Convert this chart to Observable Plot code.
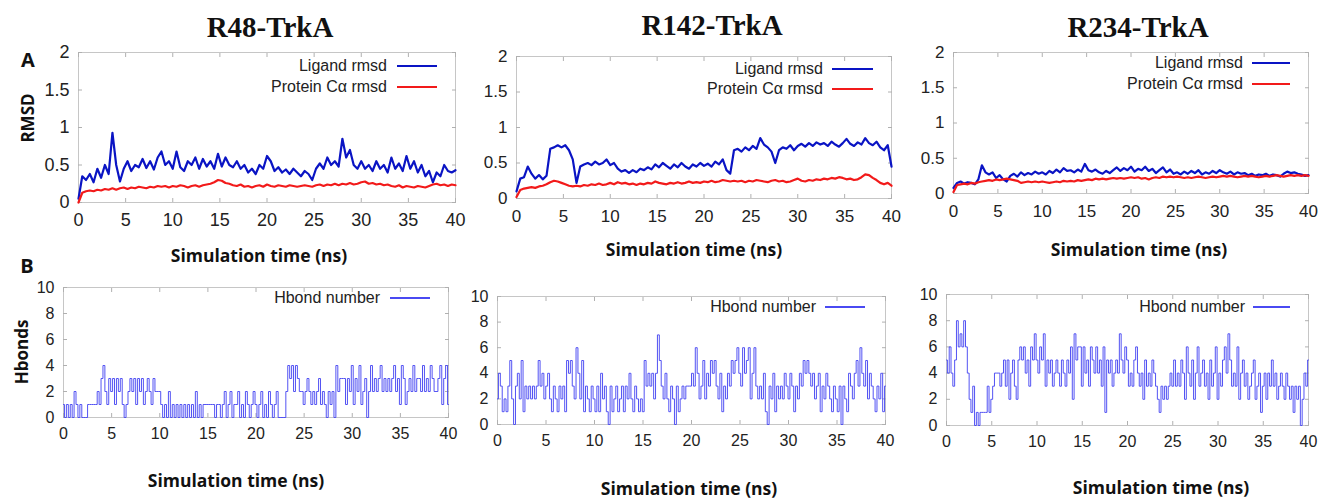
<!DOCTYPE html>
<html><head><meta charset="utf-8">
<script src="https://cdn.jsdelivr.net/npm/d3@7"></script>
<script src="https://cdn.jsdelivr.net/npm/@observablehq/plot@0.6"></script>
<style>
body{margin:0;background:#fff;}
#fig{position:relative;width:1319px;height:499px;overflow:hidden;font-family:"Liberation Sans",Arial,sans-serif;background:#fff;}
.abs{position:absolute;white-space:nowrap;line-height:1;}
.title{font-family:"Liberation Serif","Times New Roman",serif;font-weight:bold;font-size:29px;transform:translate(-50%,-50%);color:#111;}
.xlab{font-family:"Open Sans",sans-serif;font-weight:700;font-size:17.5px;transform:translate(-50%,-50%);color:#111;}
.ylab{font-family:"Open Sans",sans-serif;font-weight:700;font-size:17px;transform:translate(-50%,-50%) rotate(-90deg);color:#111;}
.letter{font-family:"Open Sans",sans-serif;font-weight:700;font-size:20px;transform:translate(-50%,-50%);color:#111;}
.leg{font-family:"Liberation Sans",Arial,sans-serif;font-size:16px;color:#222;transform:translateY(-50%);}
.swatch{position:absolute;height:2px;}
</style></head>
<body><div id="fig"></div>
<script>
// ---------- data ----------
const titles = ["R48-TrkA", "R142-TrkA", "R234-TrkA"];
const xLabel = "Simulation time (ns)";
const xTicks = [0, 5, 10, 15, 20, 25, 30, 35, 40];
const rmsdTicks = [0, 0.5, 1, 1.5, 2];
const hbondTicks = [0, 2, 4, 6, 8, 10];
const rmsdSeriesNames = ["Ligand rmsd", "Protein Cα rmsd"];
const hbondSeriesName = "Hbond number";

// RMSD (nm), sampled every 0.4 ns from 0 to 40 ns
const r48Ligand = [0.05,0.35,0.3,0.38,0.27,0.45,0.33,0.5,0.38,0.93,0.5,0.28,0.45,0.55,0.42,0.5,0.47,0.58,0.46,0.55,0.44,0.6,0.68,0.5,0.55,0.45,0.68,0.47,0.42,0.55,0.5,0.6,0.45,0.58,0.48,0.55,0.45,0.65,0.48,0.6,0.5,0.47,0.55,0.45,0.5,0.4,0.45,0.38,0.5,0.45,0.62,0.55,0.42,0.47,0.4,0.44,0.38,0.45,0.4,0.35,0.42,0.38,0.3,0.45,0.52,0.45,0.6,0.5,0.55,0.48,0.85,0.6,0.7,0.5,0.45,0.55,0.45,0.5,0.42,0.55,0.45,0.5,0.4,0.6,0.45,0.52,0.42,0.62,0.45,0.55,0.4,0.5,0.35,0.42,0.27,0.4,0.35,0.5,0.42,0.4,0.43];
const r48Protein = [0,0.13,0.15,0.16,0.15,0.17,0.16,0.18,0.17,0.19,0.17,0.19,0.2,0.18,0.2,0.19,0.21,0.2,0.19,0.21,0.2,0.22,0.21,0.22,0.2,0.22,0.21,0.23,0.22,0.2,0.22,0.23,0.21,0.23,0.24,0.25,0.27,0.3,0.29,0.26,0.25,0.23,0.22,0.24,0.21,0.22,0.2,0.22,0.23,0.21,0.24,0.22,0.21,0.23,0.22,0.21,0.23,0.22,0.21,0.22,0.23,0.22,0.21,0.23,0.24,0.22,0.24,0.23,0.25,0.23,0.25,0.24,0.26,0.24,0.25,0.27,0.28,0.25,0.26,0.24,0.25,0.23,0.24,0.22,0.21,0.23,0.2,0.22,0.21,0.2,0.22,0.21,0.2,0.22,0.24,0.25,0.23,0.24,0.22,0.24,0.23];
const r142Ligand = [0.1,0.28,0.3,0.45,0.35,0.28,0.33,0.27,0.32,0.7,0.72,0.75,0.72,0.75,0.68,0.55,0.22,0.45,0.48,0.5,0.47,0.52,0.48,0.5,0.55,0.47,0.5,0.42,0.38,0.4,0.36,0.4,0.37,0.42,0.4,0.44,0.41,0.48,0.44,0.5,0.46,0.42,0.48,0.44,0.5,0.45,0.42,0.48,0.45,0.5,0.46,0.49,0.45,0.52,0.48,0.55,0.4,0.35,0.68,0.7,0.66,0.72,0.68,0.74,0.7,0.85,0.76,0.72,0.66,0.5,0.68,0.72,0.7,0.75,0.68,0.74,0.77,0.73,0.78,0.74,0.79,0.76,0.78,0.74,0.8,0.76,0.73,0.78,0.84,0.77,0.74,0.79,0.76,0.85,0.78,0.75,0.8,0.72,0.68,0.75,0.45];
const r142Protein = [0.02,0.12,0.14,0.15,0.16,0.15,0.17,0.18,0.2,0.23,0.25,0.24,0.22,0.2,0.18,0.17,0.18,0.17,0.19,0.18,0.2,0.19,0.21,0.19,0.2,0.22,0.2,0.23,0.21,0.22,0.2,0.21,0.19,0.21,0.2,0.22,0.21,0.24,0.22,0.21,0.2,0.22,0.21,0.23,0.21,0.22,0.24,0.22,0.23,0.22,0.24,0.23,0.25,0.23,0.24,0.26,0.25,0.24,0.25,0.24,0.25,0.23,0.25,0.24,0.26,0.25,0.24,0.23,0.25,0.26,0.24,0.25,0.23,0.24,0.26,0.28,0.25,0.24,0.26,0.25,0.27,0.26,0.28,0.27,0.29,0.28,0.3,0.29,0.27,0.28,0.26,0.27,0.3,0.34,0.33,0.29,0.26,0.22,0.2,0.22,0.18];
const r234Ligand = [0.08,0.15,0.17,0.14,0.16,0.15,0.13,0.2,0.4,0.3,0.27,0.3,0.22,0.26,0.2,0.17,0.25,0.28,0.24,0.3,0.26,0.29,0.27,0.31,0.28,0.3,0.27,0.32,0.29,0.34,0.3,0.36,0.32,0.33,0.3,0.34,0.31,0.42,0.33,0.31,0.34,0.3,0.28,0.32,0.29,0.33,0.37,0.32,0.36,0.33,0.38,0.31,0.35,0.33,0.38,0.32,0.35,0.29,0.33,0.37,0.3,0.34,0.28,0.3,0.27,0.31,0.28,0.32,0.29,0.33,0.27,0.3,0.28,0.32,0.29,0.33,0.3,0.28,0.31,0.27,0.3,0.28,0.29,0.26,0.28,0.25,0.27,0.26,0.28,0.25,0.27,0.26,0.24,0.28,0.31,0.29,0.3,0.28,0.27,0.25,0.26];
const r234Protein = [0.02,0.12,0.13,0.14,0.13,0.15,0.14,0.16,0.17,0.18,0.19,0.18,0.2,0.19,0.2,0.21,0.2,0.19,0.18,0.15,0.16,0.17,0.16,0.17,0.16,0.17,0.16,0.15,0.16,0.17,0.16,0.18,0.17,0.18,0.17,0.19,0.18,0.19,0.2,0.19,0.21,0.2,0.21,0.2,0.21,0.22,0.21,0.22,0.21,0.22,0.23,0.22,0.23,0.21,0.22,0.2,0.22,0.23,0.22,0.24,0.23,0.24,0.23,0.24,0.23,0.22,0.23,0.22,0.23,0.24,0.23,0.22,0.23,0.24,0.23,0.24,0.25,0.24,0.25,0.24,0.23,0.24,0.25,0.24,0.25,0.24,0.23,0.24,0.25,0.24,0.25,0.26,0.25,0.24,0.25,0.26,0.25,0.26,0.25,0.26,0.25];

// Hydrogen bond counts, sampled every 0.2 ns from 0 to 40 ns
const r48Hbond = [1,0,1,0,1,0,2,1,0,1, 0,0,0, 1,1,1,1,1, 2,1,3,4,2, 1,3,2,3,1,3,2,3,1,0,1, 2,3,2,3,1,3,2,3,1,2,3,2,1,3,2,2,2, 1,0,1,0,2,0,1,0,1,0,1,0,1,0,1,0,1,0,2,0,1,0,1,1,1, 1,1,1,0,1,1,0, 1,2,0,1,2,0,1,1,2,0,1,0,2,1,0,1,2,1,0,1,2,0,1,0,2,1,0,1,2,0, 0,0,0, 2,4,3,4,2,4,3,2, 2,1,2,3,2,1,2,1,2,3,1,2,1,0,2,1,2,0, 4,2,3,3,3,1,3,2,4,1,3,2,4,1,2,3,0,2,4,2,3,2,3,4,2,3,2,3,2,3,4,2,3,1,4,3,1,2,3,2,4,2,3,3,2,4,2,3,2,4,3,2,2,3,4,1,3,4,1];
const r142Hbond = [2,4,3,1,2,1,3,5,2,0, 3,4,2,5,1,3,2,3,2, 3,2,3,5,3,4,2, 3,4,2,1,3,2,1,3,2,3,1, 5,4,5,3,2, 6,4,2,5,1,3,2,1,3,2,1, 3,1,4,2,3,1,0,3,1, 2,3,1,2,3,1,3,2,4,2,1,3,2,1,2,1, 5,3,4,3,4,2,4, 7,5,3,2,4, 2,1,3,2,0,3,1,2, 3,2,3,3,3, 4,3,6,4,2,3,5, 2,4,3,5,4,5,3,2,4,1,3,2, 4,3,5,4,5,6,4,3, 6,4,5,6,2,4,6,3,2, 3,2,4,1,0,3,2,4,1,3,2, 3,2,4,3,2,4,3,1,3,2,4,3,5,4,5,4, 3,4,2,3,4,1,3,2,4,3,2,1,3,2,1,3, 0,3,2,1,4,3,2, 4,5,3,6,4,3,5,2,4,3, 2,1,3,2,4,1,3];
const r234Hbond = [5,4,6, 4,3,5, 8,6, 7,6,8, 6,4, 2,1,3, 0,1, 0, 1,1,1,1, 3,1,2, 3,4,4,4,3,4,5, 3,5,2,4,5,3,2,5, 6,5,6,4,5,3,6,5,7,5, 4,6,5,7,3,5,4,5,3,4,5,4,3,5,4,3,5,4,6,2, 7,5,6,6,3,6,4,5,3,6,5,4,6,4,5,3,6, 1, 5,4,5,3,4,5,4, 7,5,4,6,5, 3,4,3,5,6,4,3,4,2,5,3,4,3,5,4, 3,2,1,3,2,3,2,3,4,3, 5,3,4,3,5,4,2,6,4,3,5,2,4,6,3,4,5,3,4,2, 5,3,4,6,2,4,3,5,6,4,7,5,3,4,3,6,2,4,5,3, 4,2,3,4,5,2,3,4,1,3,4,2,4,3,5,3,4,2,3,4, 3,2,4,3,2,3,1,3,2,3,0,2,4,3,5];

const ligandColor = "#0a14c4";
const proteinColor = "#f21a1a";
const hbondColor = "#4a4af2";

// ---------- layout helpers ----------
const fig = document.getElementById("fig");
function addDiv(cls, text, left, top) {
  const d = document.createElement("div");
  d.className = "abs " + cls;
  d.textContent = text;
  d.style.left = left + "px";
  d.style.top = top + "px";
  fig.appendChild(d);
  return d;
}
function addLegendEntry(name, color, textRight, x1, x2, y, width) {
  const d = document.createElement("div");
  d.className = "abs leg";
  d.textContent = name;
  d.style.right = (1319 - textRight) + "px";
  d.style.top = y + "px";
  fig.appendChild(d);
  const s = document.createElement("div");
  s.className = "swatch";
  s.style.left = x1 + "px";
  s.style.width = (x2 - x1) + "px";
  s.style.top = (y - width / 2) + "px";
  s.style.height = width + "px";
  s.style.background = color;
  fig.appendChild(s);
}

function panel(box, yDomain, yTicks, series, fontSize, xPad, yPad) {
  const [L, T, R, B] = box;
  const ml = 45, mr = 8, mt = 8, mb = 34;
  const marks = [
    Plot.frame({stroke: "#c6c6c6"}),
    Plot.axisX(xTicks, {anchor: "bottom", tickSize: -4, stroke: "#b0b0b0", tickFormat: () => "", label: null}),
    Plot.axisX(xTicks, {anchor: "top", tickSize: -4, stroke: "#b0b0b0", tickFormat: () => "", label: null}),
    Plot.axisY(yTicks, {anchor: "left", tickSize: -4, stroke: "#b0b0b0", tickFormat: () => "", label: null}),
    Plot.axisY(yTicks, {anchor: "right", tickSize: -4, stroke: "#b0b0b0", tickFormat: () => "", label: null}),
    Plot.axisX(xTicks, {anchor: "bottom", tickSize: 0, tickPadding: xPad, label: null, fontSize, fill: "#222", tickFormat: d => String(d)}),
    Plot.axisY(yTicks, {anchor: "left", tickSize: 0, tickPadding: yPad, label: null, fontSize, fill: "#222", tickFormat: d => String(d)})
  ];
  for (const s of series) {
    const n = s.values.length;
    marks.push(Plot.lineY(s.values, {
      x: (d, i) => i * 40 / (n - 1),
      y: d => d,
      stroke: s.color,
      strokeWidth: s.width,
      strokeOpacity: s.opacity ?? 1,
      curve: s.curve ?? "linear"
    }));
  }
  const p = Plot.plot({
    width: R - L + ml + mr,
    height: B - T + mt + mb,
    marginLeft: ml, marginRight: mr, marginTop: mt, marginBottom: mb,
    x: {domain: [0, 40]},
    y: {domain: yDomain},
    style: {fontFamily: "'Liberation Sans', Arial, sans-serif", fontSize: fontSize + "px", background: "transparent", overflow: "visible"},
    marks
  });
  p.style.position = "absolute";
  p.style.left = (L - ml) + "px";
  p.style.top = (T - mt) + "px";
  fig.appendChild(p);
}

// ---------- panels ----------
const rmsdBoxes = [[78, 52, 455, 202], [516, 56, 891, 198], [953, 52, 1308, 193]];
const hbondBoxes = [[63, 287, 448, 417], [497, 296, 885, 424], [946, 294, 1308, 425]];
const rmsdData = [[r48Ligand, r48Protein], [r142Ligand, r142Protein], [r234Ligand, r234Protein]];
const hbondData = [r48Hbond, r142Hbond, r234Hbond];
const rmsdFont = [18, 17, 17];

rmsdBoxes.forEach((box, k) => {
  panel(box, [0, 2], rmsdTicks, [
    {values: rmsdData[k][0], color: ligandColor, width: 2.2},
    {values: rmsdData[k][1], color: proteinColor, width: 2.2}
  ], rmsdFont[k], 11, 9);
});
hbondBoxes.forEach((box, k) => {
  panel(box, [0, 10], hbondTicks, [
    {values: hbondData[k], color: hbondColor, width: 1, opacity: 0.95, curve: "step"}
  ], 16, 10, 9);
});

// ---------- titles & labels ----------
const titleCenters = [[270, 27], [712, 25], [1138, 27]];
titles.forEach((t, k) => addDiv("title", t, titleCenters[k][0], titleCenters[k][1]));

const rmsdXLabel = [[259, 256], [694, 250], [1139, 250]];
const hbondXLabel = [[236, 481], [689, 489], [1161, 488]];
rmsdXLabel.forEach(c => addDiv("xlab", xLabel, c[0], c[1]));
hbondXLabel.forEach(c => addDiv("xlab", xLabel, c[0], c[1]));

addDiv("ylab", "RMSD", 27, 118);
addDiv("ylab", "Hbonds", 21, 352);
addDiv("letter", "A", 28, 60);
addDiv("letter", "B", 27, 266);

// ---------- legends ----------
addLegendEntry(rmsdSeriesNames[0], ligandColor, 387, 397, 437, 66, 2.5);
addLegendEntry(rmsdSeriesNames[1], proteinColor, 387, 397, 437, 87, 2.5);
addLegendEntry(rmsdSeriesNames[0], ligandColor, 823, 832, 873, 69, 2.5);
addLegendEntry(rmsdSeriesNames[1], proteinColor, 823, 832, 873, 89, 2.5);
addLegendEntry(rmsdSeriesNames[0], ligandColor, 1243, 1252, 1290, 63, 2.5);
addLegendEntry(rmsdSeriesNames[1], proteinColor, 1243, 1252, 1290, 84, 2.5);
addLegendEntry(hbondSeriesName, hbondColor, 380, 390, 430, 298, 1.5);
addLegendEntry(hbondSeriesName, hbondColor, 816, 825, 865, 307, 1.5);
addLegendEntry(hbondSeriesName, hbondColor, 1245, 1253, 1290, 307, 1.5);
</script>
</body></html>
